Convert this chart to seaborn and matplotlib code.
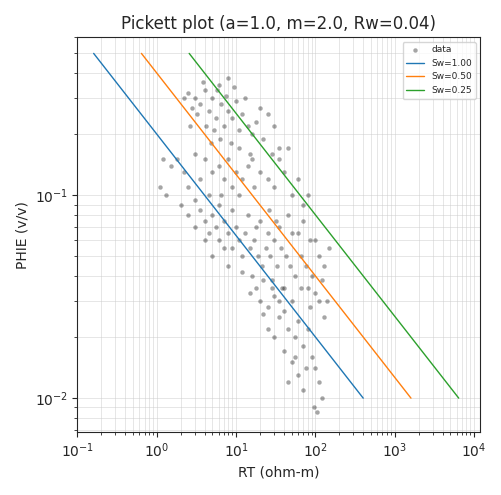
import matplotlib
matplotlib.use("Agg")
import matplotlib.pyplot as plt
import seaborn as sns
import numpy as np
import pandas as pd

# Archie parameters
a, m, n, Rw = 1.0, 2.0, 2.0, 0.04
sw_values = [1.00, 0.50, 0.25]
sw_colors = ["#1f77b4", "#ff7f0e", "#2ca02c"]
phi_line = [0.5, 0.01]

# data points (RT, PHIE)
rt = [2.5, 3, 3.5, 4, 4.5, 5, 5.5, 6, 6.5, 7, 7.5, 8, 9, 10, 11, 12, 14, 16, 3.2, 4.2,
      5.2, 6.2, 2.8, 3.8, 5.8, 7.8, 9.5, 13, 20, 25, 18, 2.2, 2.6, 4.8, 8.5, 11, 15, 30, 22, 35,
      1.8, 1.5, 1.2, 2.2, 3, 4, 5, 6, 7, 8, 9, 10, 12, 14, 17, 20, 25, 30, 40, 50,
      60, 35, 28, 3.5, 2.5, 1.1, 1.3, 4.5, 6.5, 11, 16, 45, 70, 80,
      2, 2.5, 3, 3.5, 4, 4.5, 5, 5.5, 6, 7, 8, 9, 10, 11, 12, 13, 15, 17, 19, 21,
      24, 27, 30, 33, 37, 42, 48, 55, 65, 75, 90, 110, 130, 3, 6, 9, 14, 20, 26, 35,
      45, 60, 100, 150, 16, 22, 12, 8, 5, 28, 40, 50, 18, 4, 7, 25, 32, 70, 85,
      15, 20, 25, 30, 35, 40, 45, 50, 55, 60, 70, 80, 90, 100, 110, 120, 40, 50, 60, 70,
      30, 25, 35, 65, 85, 100, 130, 110, 95, 105, 75, 55, 45, 38, 28, 22, 18, 140, 120, 80]
phie = [0.32, 0.30, 0.28, 0.33, 0.26, 0.30, 0.24, 0.35, 0.28, 0.22, 0.31, 0.26, 0.24, 0.29, 0.21, 0.25, 0.22, 0.20, 0.25, 0.22,
        0.21, 0.19, 0.27, 0.36, 0.33, 0.38, 0.34, 0.30, 0.27, 0.25, 0.23, 0.30, 0.22, 0.18, 0.18, 0.17, 0.16, 0.22, 0.19, 0.17,
        0.15, 0.14, 0.15, 0.13, 0.16, 0.15, 0.13, 0.14, 0.12, 0.15, 0.11, 0.13, 0.12, 0.14, 0.11, 0.13, 0.12, 0.11, 0.13, 0.10,
        0.12, 0.15, 0.16, 0.12, 0.11, 0.11, 0.10, 0.10, 0.10, 0.10, 0.15, 0.17, 0.09, 0.10,
        0.09, 0.08, 0.07, 0.085, 0.075, 0.065, 0.08, 0.07, 0.06, 0.075, 0.065, 0.055, 0.07, 0.06, 0.05, 0.065, 0.055, 0.06, 0.05, 0.045,
        0.055, 0.05, 0.06, 0.045, 0.055, 0.05, 0.045, 0.04, 0.05, 0.045, 0.04, 0.05, 0.045, 0.095, 0.09, 0.085, 0.08, 0.075, 0.085, 0.07,
        0.08, 0.065, 0.06, 0.055, 0.04, 0.038, 0.042, 0.045, 0.05, 0.035, 0.035, 0.065, 0.07, 0.06, 0.055, 0.065, 0.075, 0.075, 0.06,
        0.033, 0.03, 0.028, 0.032, 0.025, 0.027, 0.022, 0.03, 0.02, 0.024, 0.018, 0.022, 0.016, 0.014, 0.012, 0.01, 0.017, 0.015, 0.013, 0.011,
        0.02, 0.022, 0.03, 0.035, 0.028, 0.033, 0.025, 0.03, 0.009, 0.0085, 0.014, 0.016, 0.012, 0.035, 0.038, 0.026, 0.035, 0.03, 0.038, 0.035]

df = pd.DataFrame({"RT": rt, "PHIE": phie})

sns.set_style("ticks")
fig, ax = plt.subplots(figsize=(5.02, 4.95), dpi=100)

sns.scatterplot(data=df, x="RT", y="PHIE", ax=ax, s=9, color="black", alpha=0.35,
                edgecolor="gray", linewidth=0.3, label="data")

phi_arr = np.array(phi_line)
for sw, c in zip(sw_values, sw_colors):
    rt_line = a * Rw / (phi_arr ** m * sw ** n)
    ax.plot(rt_line, phi_arr, color=c, linewidth=1, label=f"Sw={sw:.2f}")

ax.set_xscale("log")
ax.set_yscale("log")
ax.set_xlim(0.1, 1.2e4)
ax.set_ylim(0.0068, 0.6)
ax.grid(True, which="both", color="#cccccc", linewidth=0.5, alpha=0.7)
ax.set_xlabel("RT (ohm-m)")
ax.set_ylabel("PHIE (v/v)")
ax.set_title("Pickett plot (a=1.0, m=2.0, Rw=0.04)")
ax.legend(loc="upper right", fontsize=6.5)

fig.tight_layout()
fig.savefig("out.png", dpi=100)
